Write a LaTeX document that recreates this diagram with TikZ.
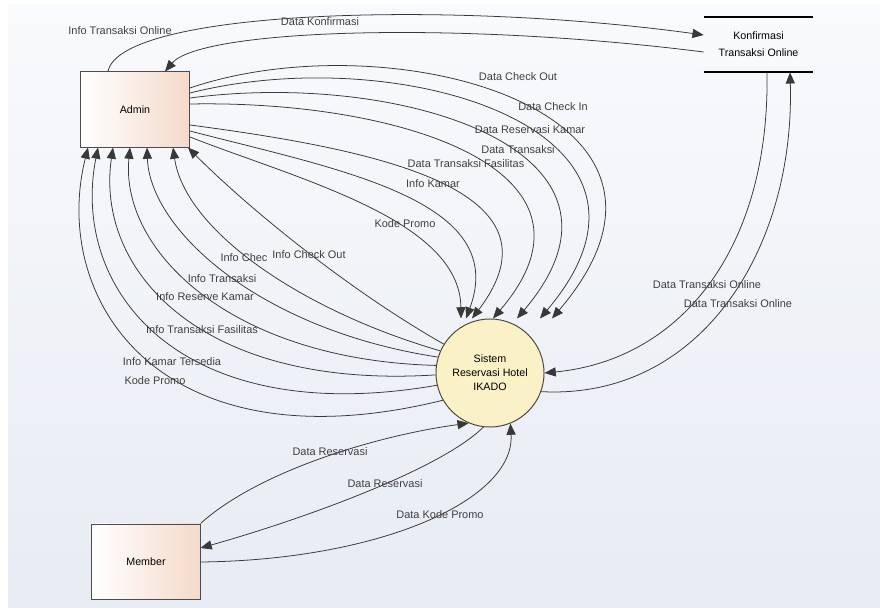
\documentclass[tikz,border=0pt]{standalone}
\usepackage{fontspec}
\setmainfont{Liberation Sans}
\usetikzlibrary{arrows.meta}
\definecolor{latarA}{HTML}{F9FAFC}
\definecolor{latarB}{HTML}{E7EBF3}
\definecolor{persik}{HTML}{F4DACA}
\definecolor{kuning}{HTML}{FAF2C6}
\definecolor{garis}{HTML}{383838}

\begin{document}
\begin{tikzpicture}[x=0.025cm,y=-0.025cm,
  entitas/.style={draw=black!70, line width=0.7pt, left color=white, right color=persik,
    minimum width=2.72cm, minimum height=1.875cm, inner sep=0pt, font=\fontsize{7.6}{8}\selectfont},
  proses/.style={circle, draw=black!50!kuning!60!black, line width=0.7pt, fill=kuning,
    minimum size=2.7cm, inner sep=0pt, align=center, font=\fontsize{7.6}{10}\selectfont},
  alir/.style={draw=garis, line width=0.55pt, -{Triangle[length=8pt,width=6.5pt]}},
  ket/.style={font=\fontsize{7.8}{8}\selectfont, text=black!75, inner sep=1pt}]

\useasboundingbox (0,0) rectangle (880,610);
\fill[top color=latarA, bottom color=latarB] (8,5) rectangle (880,607);

% entitas, proses, penyimpanan
\node[entitas] (admin) at (135,109.5) {Admin};
\node[entitas, minimum width=2.7cm] (member) at (146,561.5) {Member};
\node[proses] (sistem) at (490,373) {Sistem\\Reservasi Hotel\\IKADO};
\node[align=center, minimum width=2.725cm, minimum height=1.375cm, inner sep=0pt,
  font=\fontsize{7.6}{12}\selectfont] (konf) at (758.5,44.5) {Konfirmasi\\Transaksi Online};
\draw[line width=1.2pt] (konf.north west) -- (konf.north east);
\draw[line width=1.2pt] (konf.south west) -- (konf.south east);

% admin <-> konfirmasi
\draw[alir] (admin.north -| 108,0) .. controls (120,10) and (450,0) .. (konf.west |- 0,35);
\node[ket] (l1) at (120,31) {Info Transaksi Online};
\draw[alir] (konf.west |- 0,52) .. controls (450,20) and (200,30) .. (admin.north -| 165,0);
\node[ket] (l2) at (320,22) {Data Konfirmasi};

% admin -> sistem
\draw[alir] (admin.east |- 0,88) .. controls (390,20) and (730,110) .. (sistem.north -| 552,0);
\node[ket] (l3) at (518,77) {Data Check Out};
\draw[alir] (admin.east |- 0,93) .. controls (400,40) and (700,130) .. (sistem.north -| 540,0);
\node[ket] (l4) at (553,107) {Data Check In};
\draw[alir] (admin.east |- 0,98) .. controls (400,70) and (660,150) .. (sistem.north -| 517,0);
\node[ket] (l5) at (530,130) {Data Reservasi Kamar};
\draw[alir] (admin.east |- 0,104) .. controls (400,100) and (620,170) .. (sistem.north -| 493,0);
\node[ket] (l6) at (518,150) {Data Transaksi};
\draw[alir] (admin.east |- 0,125) .. controls (380,150) and (570,190) .. (sistem.north -| 472,0);
\node[ket] (l7) at (466,164) {Data Transaksi Fasilitas};
\draw[alir] (admin.east |- 0,131) .. controls (340,170) and (510,200) .. (sistem.north -| 466,0);
\node[ket] (l8) at (433,184) {Info Kamar};
\draw[alir] (admin.east |- 0,137) .. controls (300,180) and (460,220) .. (sistem.north -| 461,0);
\node[ket] (l9) at (405,224) {Kode Promo};

% sistem -> admin
\draw[alir] (sistem.148) .. controls (340,285) and (240,200) .. (admin.south -| 188,0);
\node[ket] (l10) at (309,255) {Info Check Out};
\draw[alir] (sistem.156) .. controls (300,310) and (185,230) .. (admin.south -| 173,0);
\node[ket] (l11) at (244,258) {Info Chec};
\draw[alir] (sistem.163) .. controls (260,330) and (150,230) .. (admin.south -| 147,0);
\node[ket] (l12) at (222,279) {Info Transaksi};
\draw[alir] (sistem.172) .. controls (230,360) and (120,250) .. (admin.south -| 130,0);
\node[ket] (l13) at (205,297) {Info Reserve Kamar};
\draw[alir] (sistem.182) .. controls (200,390) and (95,270) .. (admin.south -| 113,0);
\node[ket] (l14) at (202,330) {Info Transaksi Fasilitas};
\draw[alir] (sistem.193) .. controls (180,430) and (70,290) .. (admin.south -| 98,0);
\node[ket] (l15) at (172,362) {Info Kamar Tersedia};
\draw[alir] (sistem.210) .. controls (160,470) and (50,300) .. (admin.south -| 88,0);
\node[ket] (l16) at (155,381) {Kode Promo};

% konfirmasi <-> sistem
\draw[alir] (konf.south -| 767,0) .. controls (770,250) and (680,360) .. (sistem.east);
\node[ket] (l17) at (707,285) {Data Transaksi Online};
\draw[alir] (sistem.-20) .. controls (700,400) and (795,250) .. (konf.south -| 790,0);
\node[ket] (l18) at (738,304) {Data Transaksi Online};

% member <-> sistem
\draw[alir] (member.north east) .. controls (260,470) and (380,435) .. (sistem.-113);
\node[ket] (l19) at (330,452) {Data Reservasi};
\draw[alir] (sistem.-97) .. controls (440,470) and (300,520) .. (member.east |- 0,548);
\node[ket] (l20) at (385,484) {Data Reservasi};
\draw[alir] (member.east |- 0,562) .. controls (380,560) and (515,500) .. (sistem.-68);
\node[ket] (l21) at (440,515) {Data Kode Promo};

\end{tikzpicture}
\end{document}
